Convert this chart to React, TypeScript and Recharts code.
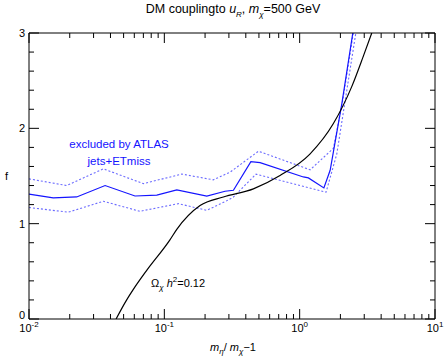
import React from "react";
import { LineChart, Line, XAxis, YAxis } from "recharts";

// log x ticks: decades plus 2..9 minors
const xTicks = [
  0.01, 0.02, 0.03, 0.04, 0.05, 0.06, 0.07, 0.08, 0.09,
  0.1, 0.2, 0.3, 0.4, 0.5, 0.6, 0.7, 0.8, 0.9,
  1, 2, 3, 4, 5, 6, 7, 8, 9, 10,
];
const yTicks = [0, 0.2, 0.4, 0.6, 0.8, 1, 1.2, 1.4, 1.6, 1.8, 2, 2.2, 2.4, 2.6, 2.8, 3];
const yMajor = [0, 1, 2, 3];

// ATLAS jets+ETmiss exclusion (central)
const atlasX = [0.01, 0.0151, 0.0225, 0.0365, 0.0607, 0.088, 0.1236, 0.206, 0.281, 0.324, 0.436, 0.51, 1.065, 1.16, 1.51, 1.68, 2.05, 2.47];
const atlasF = [1.31, 1.27, 1.28, 1.4, 1.29, 1.3, 1.355, 1.29, 1.34, 1.35, 1.65, 1.64, 1.49, 1.48, 1.375, 1.56, 2.26, 3.0];

// upper / lower bands
const upperX = [0.01, 0.019, 0.0354, 0.07, 0.1346, 0.23, 0.306, 0.496, 1.195, 1.775, 2.08, 2.49];
const upperF = [1.47, 1.4, 1.575, 1.42, 1.52, 1.46, 1.54, 1.76, 1.565, 1.79, 2.29, 3.0];
const lowerX = [0.01, 0.0195, 0.0354, 0.066, 0.127, 0.206, 0.289, 0.324, 0.476, 1.567, 1.88, 2.6];
const lowerF = [1.17, 1.12, 1.235, 1.13, 1.21, 1.14, 1.24, 1.28, 1.52, 1.33, 1.73, 3.0];

// relic density Omega h^2 = 0.12
const relicX = [0.044, 0.0527, 0.059, 0.0741, 0.11, 0.1236, 0.1836, 0.273, 0.455, 0.716, 1.19, 1.775, 2.43, 2.96, 3.41];
const relicF = [0, 0.2, 0.31, 0.51, 0.83, 0.94, 1.19, 1.28, 1.365, 1.505, 1.73, 2.05, 2.44, 2.76, 3.0];

const zip = (xs: number[], ys: number[]) => xs.map((x, i) => ({ x, f: ys[i] }));
const atlas = zip(atlasX, atlasF);
const upper = zip(upperX, upperF);
const lower = zip(lowerX, lowerF);
const relic = zip(relicX, relicF);

const FONT = "'Liberation Sans', Arial, sans-serif";
const isDecade = (v: number) => Math.abs(Math.log10(v) - Math.round(Math.log10(v))) < 1e-6;

function BottomTick(props: any) {
  const { x, y, payload } = props;
  const major = isDecade(payload.value);
  const exp = Math.round(Math.log10(payload.value));
  return (
    <g>
      <line x1={x} x2={x} y1={y} y2={y - (major ? 10 : 5)} stroke="#000" />
      {major && (
        <text x={x} y={y + 13} textAnchor="middle" fontSize={11} fontFamily={FONT} fill="#000">
          10
          <tspan dy={-5} fontSize={8}>{exp}</tspan>
        </text>
      )}
    </g>
  );
}

function TopTick(props: any) {
  const { x, y, payload } = props;
  const major = isDecade(payload.value);
  return <line x1={x} x2={x} y1={y} y2={y + (major ? 10 : 5)} stroke="#000" />;
}

function LeftTick(props: any) {
  const { x, y, payload } = props;
  const major = yMajor.includes(payload.value);
  return (
    <g>
      <line x1={x} x2={x + (major ? 10 : 5)} y1={y} y2={y} stroke="#000" />
      {major && (
        <text x={x - 4} y={y + (payload.value === 0 ? 0 : 4)} textAnchor="end" fontSize={11} fontFamily={FONT} fill="#000">
          {payload.value}
        </text>
      )}
    </g>
  );
}

function RightTick(props: any) {
  const { x, y, payload } = props;
  const major = yMajor.includes(payload.value);
  return <line x1={x} x2={x - (major ? 10 : 5)} y1={y} y2={y} stroke="#000" />;
}

export default function App() {
  return (
    <div style={{ position: "relative", width: 444, height: 357, fontFamily: FONT, background: "#fff" }}>
      <style>{"body{margin:0}"}</style>
      <LineChart width={444} height={357} margin={{ top: 32, right: 8, bottom: 37, left: 28 }}>
        <XAxis
          dataKey="x"
          type="number"
          scale="log"
          domain={[0.01, 10]}
          ticks={xTicks}
          interval={0}
          height={1}
          tickSize={0}
          tickMargin={0}
          allowDataOverflow
          axisLine={{ stroke: "#000" }}
          tick={(p: any) => <BottomTick {...p} />}
        />
        <XAxis
          xAxisId="top"
          orientation="top"
          dataKey="x"
          type="number"
          scale="log"
          domain={[0.01, 10]}
          ticks={xTicks}
          interval={0}
          height={1}
          tickSize={0}
          tickMargin={0}
          allowDataOverflow
          axisLine={{ stroke: "#000" }}
          tick={(p: any) => <TopTick {...p} />}
        />
        <YAxis
          type="number"
          domain={[0, 3]}
          ticks={yTicks}
          interval={0}
          width={1}
          tickSize={0}
          tickMargin={0}
          allowDataOverflow
          axisLine={{ stroke: "#000" }}
          tick={(p: any) => <LeftTick {...p} />}
        />
        <YAxis
          yAxisId="right"
          orientation="right"
          type="number"
          domain={[0, 3]}
          ticks={yTicks}
          interval={0}
          width={1}
          tickSize={0}
          tickMargin={0}
          allowDataOverflow
          axisLine={{ stroke: "#000" }}
          tick={(p: any) => <RightTick {...p} />}
        />
        <Line data={upper} dataKey="f" type="linear" stroke="#6b6bff" strokeWidth={1.1} strokeDasharray="2 2" dot={false} activeDot={false} isAnimationActive={false} />
        <Line data={lower} dataKey="f" type="linear" stroke="#6b6bff" strokeWidth={1.1} strokeDasharray="2 2" dot={false} activeDot={false} isAnimationActive={false} />
        <Line data={atlas} dataKey="f" type="linear" stroke="#1414ff" strokeWidth={1.2} dot={false} activeDot={false} isAnimationActive={false} />
        <Line data={relic} dataKey="f" type="monotone" stroke="#000" strokeWidth={1.2} dot={false} activeDot={false} isAnimationActive={false} />
      </LineChart>

      <div style={{ position: "absolute", left: 0, width: 466, top: 2, textAlign: "center", fontSize: 12.5 }}>
        DM couplingto <i>u</i>
        <sub style={{ fontSize: 8, fontStyle: "italic" }}>R</sub>, <i>m</i>
        <sub style={{ fontSize: 8, fontStyle: "italic" }}>χ</sub>=500 GeV
      </div>
      <div style={{ position: "absolute", left: 5, top: 170, fontSize: 11 }}>f</div>
      <div style={{ position: "absolute", left: 0, width: 466, top: 341, textAlign: "center", fontSize: 11 }}>
        <i>m</i>
        <sub style={{ fontSize: 8, fontStyle: "italic" }}>η</sub>/ <i>m</i>
        <sub style={{ fontSize: 8, fontStyle: "italic" }}>χ</sub>−1
      </div>
      <div style={{ position: "absolute", left: 64, top: 136, fontSize: 11.5, color: "#1414ff", width: 110, textAlign: "center", lineHeight: "17px" }}>
        excluded by ATLAS
        <br />
        jets+ETmiss
      </div>
      <div style={{ position: "absolute", left: 151, top: 275, fontSize: 11 }}>
        Ω<sub style={{ fontSize: 8, fontStyle: "italic" }}>χ</sub> <i>h</i>
        <sup style={{ fontSize: 8 }}>2</sup>=0.12
      </div>
    </div>
  );
}
